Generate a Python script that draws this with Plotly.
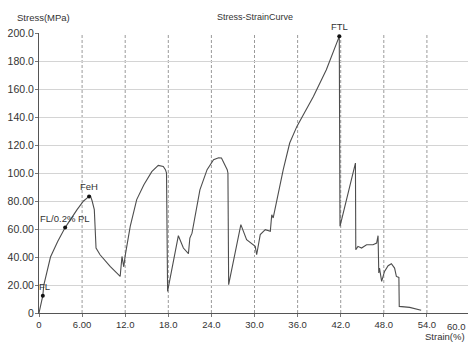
import plotly.graph_objects as go

strain = [0, 0.53, 0.67, 1.6, 2.6, 3.64, 5.3, 6.2, 6.97, 7.15, 7.4, 7.7, 7.94, 8.5, 9.9, 11.3,
          11.55, 11.8, 12.0, 12.7, 13.6, 14.6, 15.7, 16.6, 17.3, 17.6, 17.75, 17.9,
          19.4, 20.1, 20.8, 21.0, 21.3, 22.4, 23.4, 24.3, 25.0, 25.4, 26.2, 26.3, 26.4,
          28.1, 28.9, 30.1, 30.3, 30.8, 31.5, 32.2, 32.4, 32.6, 34.0, 34.9, 35.9, 38.2,
          40.0, 41.8, 41.9, 44.05, 44.1, 44.4, 44.9, 45.6, 46.5, 47.0, 47.2, 47.3, 47.4,
          47.7, 48.1, 48.6, 49.05, 49.5, 49.75, 50.1, 50.15, 51.6, 53.2]
stress = [0, 12.4, 20, 40, 51, 61, 73.8, 80, 83.3, 83.8, 80, 73.8, 46.4, 41.6, 33.3, 26.1,
          40.4, 33, 41, 61.9, 81, 91.6, 101, 105.4, 104.7, 102.4, 100, 15.4,
          55.2, 46.4, 42.4, 53.5, 57, 88, 102.4, 109.5, 110.9, 110.7, 102.4, 100, 20.2,
          63.1, 52.4, 47.6, 41.6, 56, 59.5, 58.3, 70.2, 67.9, 102.4, 121.4, 133.3, 154.7,
          173.8, 197.6, 61.9, 107.1, 45.2, 47.6, 46.4, 48.8, 48.8, 50, 55.2, 28.6, 32.1,
          22.6, 29.7, 33.8, 35.2, 32.1, 26.1, 25.4, 4.7, 4.0, 1.9]

point_names = ["FL", "FL/0.2% PL", "FeH", "FTL"]
point_strain = [0.53, 3.64, 6.97, 41.8]
point_stress = [12.4, 61.0, 83.3, 197.6]

x_ticks = [0, 6, 12, 18, 24, 30, 36, 42, 48, 54]
x_labels = ["0", "6.00", "12.0", "18.0", "24.0", "30.0", "36.0", "42.0", "48.0", "54.0"]
y_ticks = [0, 20, 40, 60, 80, 100, 120, 140, 160, 180, 200]
y_labels = ["0", "20.00", "40.00", "60.00", "80.00", "100.0", "120.0", "140.0", "160.0", "180.0", "200.0"]

FONT = "Liberation Sans, Arial, sans-serif"
L, T, PW, PH = 38.5, 33.3, 429.5, 280.0


def px(xp):
    return (xp - L) / PW


def py(yp):
    return 1 - (yp - T) / PH


fig = go.Figure()
for xv in x_ticks[1:]:
    fig.add_shape(type="line", xref="x", yref="y", x0=xv, x1=xv, y0=0, y1=200,
                  line=dict(color="#9a9a9a", width=1, dash="3px,2px"), layer="below")

fig.add_trace(go.Scatter(x=strain, y=stress, mode="lines",
                         line=dict(color="#4d4d4d", width=1.1), hoverinfo="skip",
                         showlegend=False))
fig.add_trace(go.Scatter(x=point_strain, y=point_stress, mode="markers",
                         marker=dict(color="#111111", size=4),
                         showlegend=False, cliponaxis=False))
for name, xs, ys in zip(point_names, point_strain, point_stress):
    fig.add_annotation(text=name, x=xs, y=ys, xref="x", yref="y", showarrow=False,
                       xanchor="center", yanchor="bottom", yshift=2,
                       xshift=2 if name == "FL" else 0,
                       font=dict(family=FONT, size=9.5, color="#333333"))

fig.update_layout(
    width=468, height=344,
    margin=dict(l=L, r=0, t=T, b=344 - T - PH),
    paper_bgcolor="white", plot_bgcolor="white",
    font=dict(family=FONT, size=9, color="#333333"),
)
fig.update_xaxes(range=[0, 59.72], tickvals=x_ticks, ticktext=x_labels,
                 showgrid=False, zeroline=False, showline=True, linecolor="#555555",
                 linewidth=1, ticks="outside", ticklen=3, tickcolor="#777777",
                 tickfont=dict(family=FONT, size=9.5, color="#333333"))
fig.update_yaxes(range=[0, 200], tickvals=y_ticks, ticktext=y_labels,
                 showgrid=True, gridcolor="#d4d4d4", gridwidth=1, zeroline=False,
                 showline=True, linecolor="#555555", linewidth=1,
                 ticks="outside", ticklen=3, tickcolor="#777777", ticklabelstandoff=-1,
                 tickfont=dict(family=FONT, size=10.5, color="#333333"))

fig.add_annotation(text="Stress-StrainCurve", xref="paper", yref="paper",
                   x=px(255), y=py(17), xanchor="center", yanchor="middle", showarrow=False,
                   font=dict(family=FONT, size=9, color="#333333"))
fig.add_annotation(text="Stress(MPa)", xref="paper", yref="paper",
                   x=px(43), y=py(18), xanchor="center", yanchor="middle", showarrow=False,
                   font=dict(family=FONT, size=9.5, color="#333333"))
fig.add_annotation(text="60.0", xref="paper", yref="paper",
                   x=px(468), y=py(327), xanchor="right", yanchor="middle", showarrow=False,
                   font=dict(family=FONT, size=9.5, color="#333333"))
fig.add_annotation(text="Strain(%)", xref="paper", yref="paper",
                   x=px(467), y=py(337), xanchor="right", yanchor="middle", showarrow=False,
                   font=dict(family=FONT, size=9.5, color="#333333"))

fig.write_html("out.html")
